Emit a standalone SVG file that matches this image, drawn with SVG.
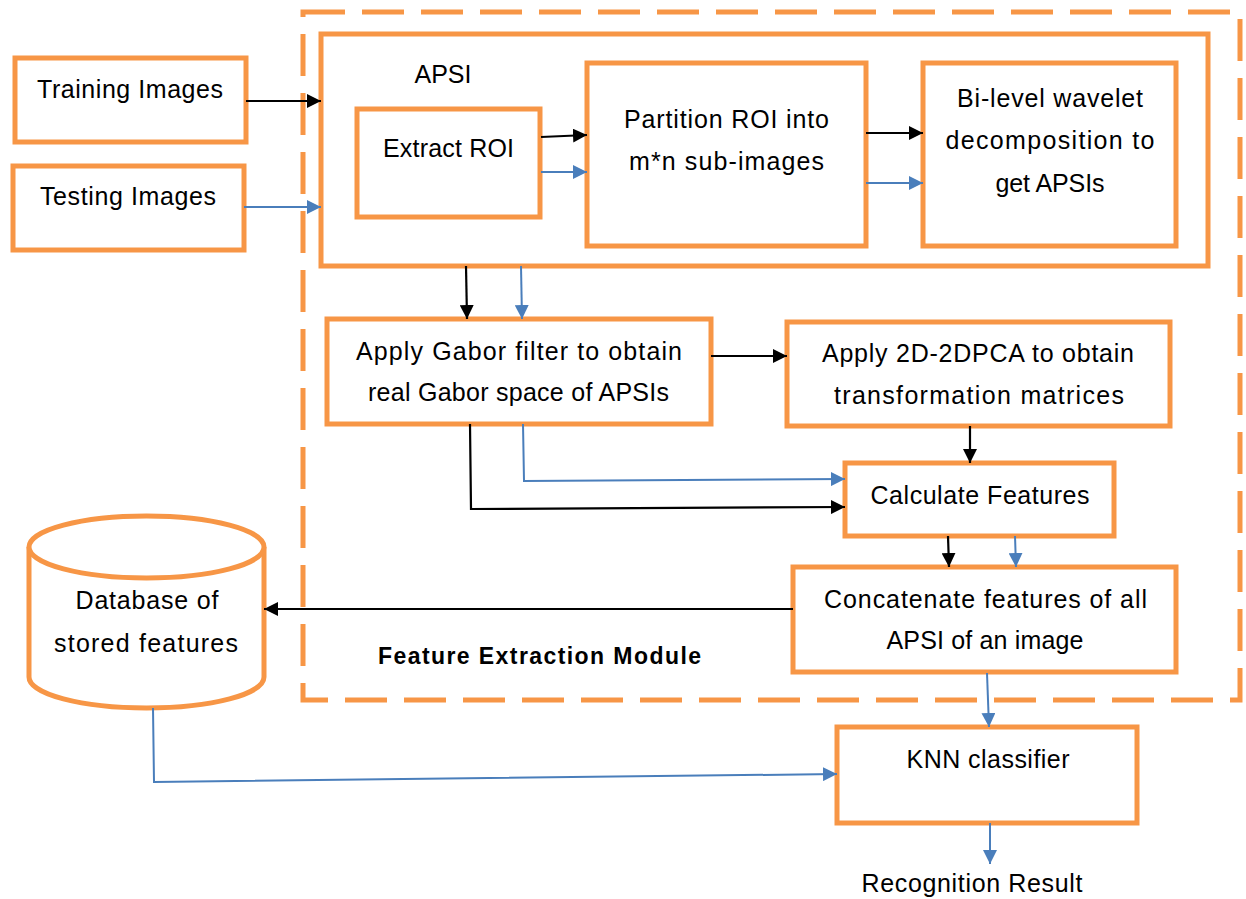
<svg xmlns="http://www.w3.org/2000/svg" width="1246" height="899" viewBox="0 0 1246 899">
<style>
.box{fill:#fff;stroke:#F79646;stroke-width:5}
.dash{fill:none;stroke:#F79646;stroke-width:5;stroke-dasharray:42 17}
.t{font-family:"Liberation Sans",Arial,sans-serif;font-size:25px;fill:#000;text-anchor:middle}
.b{font-weight:bold;font-size:23px}
.k{fill:none;stroke:#000;stroke-width:2.2}
.u{fill:none;stroke:#4A7EBB;stroke-width:2}
</style>
<defs>
<marker id="ak" markerUnits="userSpaceOnUse" markerWidth="16" markerHeight="14" refX="14" refY="7" orient="auto"><path d="M0,0 L14,7 L0,14 z" fill="#000"/></marker>
<marker id="au" markerUnits="userSpaceOnUse" markerWidth="16" markerHeight="14" refX="14" refY="7" orient="auto"><path d="M0,0 L14,7 L0,14 z" fill="#4A7EBB"/></marker>
</defs>
<rect class="dash" x="303" y="12" width="937" height="688"/>
<g id="training"><rect class="box" x="15" y="58" width="231" height="84"/><text class="t" x="130" y="98" textLength="186">Training Images</text></g>
<g id="testing"><rect class="box" x="13" y="166" width="231" height="84"/><text class="t" x="128" y="205" textLength="176">Testing Images</text></g>
<g id="apsi"><rect class="box" x="321" y="34" width="887" height="232"/><text class="t" x="443" y="83">APSI</text></g>
<g id="extract"><rect class="box" x="357" y="109" width="183" height="108"/><text class="t" x="448.5" y="157" textLength="131">Extract ROI</text></g>
<g id="partition"><rect class="box" x="587" y="63" width="279" height="183"/><text class="t" x="726.5" y="128" textLength="205">Partition ROI into</text><text class="t" x="726.5" y="170" textLength="195">m*n sub-images</text></g>
<g id="bilevel"><rect class="box" x="923" y="63" width="253" height="183"/><text class="t" x="1050" y="107" textLength="186">Bi-level wavelet</text><text class="t" x="1050" y="149" textLength="209">decomposition to</text><text class="t" x="1050" y="192" textLength="109">get APSIs</text></g>
<g id="gabor"><rect class="box" x="327" y="319" width="384" height="105"/><text class="t" x="519" y="360" textLength="326">Apply Gabor filter to obtain</text><text class="t" x="518.5" y="401" textLength="301">real Gabor space of APSIs</text></g>
<g id="pca"><rect class="box" x="787" y="322" width="383" height="104"/><text class="t" x="978" y="362" textLength="312">Apply 2D-2DPCA to obtain</text><text class="t" x="979" y="404" textLength="290">transformation matrices</text></g>
<g id="calc"><rect class="box" x="845" y="463" width="269" height="73"/><text class="t" x="980" y="504" textLength="219">Calculate Features</text></g>
<g id="concat"><rect class="box" x="793" y="567" width="383" height="105"/><text class="t" x="985.5" y="608" textLength="323">Concatenate features of all</text><text class="t" x="985" y="649" textLength="197">APSI of an image</text></g>
<g id="database"><path class="box" d="M29,547 L29,677 A117.5,31 0 0 0 264,677 L264,547"/><ellipse class="box" cx="146.5" cy="547" rx="117.5" ry="31"/><text class="t" x="147" y="609" textLength="143">Database of</text><text class="t" x="146" y="652" textLength="184">stored features</text></g>
<g id="knn"><rect class="box" x="837" y="727" width="300" height="96"/><text class="t" x="988" y="768" textLength="163">KNN classifier</text></g>
<g id="module-label"><text class="t b" x="539.5" y="664" textLength="323">Feature Extraction Module</text></g>
<g id="result"><text class="t" x="972" y="892" textLength="221">Recognition Result</text></g>
<g id="connectors">
<path class="k" d="M246,101 L321,101" marker-end="url(#ak)"/>
<path class="u" d="M244,207 L321,207" marker-end="url(#au)"/>
<path class="k" d="M541,137 L587,135" marker-end="url(#ak)"/>
<path class="u" d="M541,172 L587,172" marker-end="url(#au)"/>
<path class="k" d="M866,133 L923,133" marker-end="url(#ak)"/>
<path class="u" d="M866,183 L923,183" marker-end="url(#au)"/>
<path class="k" d="M466,266 L467,319" marker-end="url(#ak)"/>
<path class="u" d="M521,266 L522,319" marker-end="url(#au)"/>
<path class="k" d="M711,356 L787,356" marker-end="url(#ak)"/>
<path class="k" d="M970,426 L970,463" marker-end="url(#ak)"/>
<path class="u" d="M523,424 L524,481 L845,479" marker-end="url(#au)"/>
<path class="k" d="M470,424 L471,509 L845,507" marker-end="url(#ak)"/>
<path class="k" d="M948,536 L949,567" marker-end="url(#ak)"/>
<path class="u" d="M1015,536 L1016,567" marker-end="url(#au)"/>
<path class="k" d="M793,609 L264,609" stroke-width="3" marker-end="url(#ak)"/>
<path class="u" d="M153,708 L154,782 L837,774" stroke-width="2.5" marker-end="url(#au)"/>
<path class="u" d="M987,673 L989,727" marker-end="url(#au)"/>
<path class="u" d="M990,823 L990,864" marker-end="url(#au)"/>
</g>
</svg>
